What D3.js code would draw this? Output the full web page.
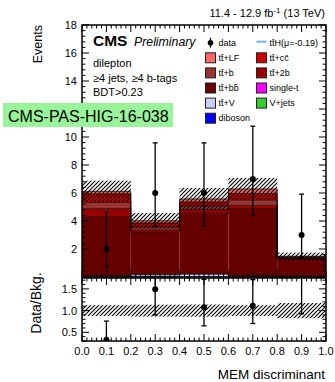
<!DOCTYPE html>
<html><head><meta charset="utf-8">
<script src="https://cdn.jsdelivr.net/npm/d3@7/dist/d3.min.js"></script>
<style>body{margin:0;background:#fff;}svg{display:block;font-family:"Liberation Sans",Arial,sans-serif;}</style>
</head><body><svg id="c" width="335" height="382"></svg>
<script>
// ---- data ----
const binEdges = [0, 0.2, 0.4, 0.6, 0.8, 1.0];
const binCenters = [0.1, 0.3, 0.5, 0.7, 0.9];
const dataCounts = [2, 6, 6, 7, 3];
const dataErrLow = [1.29, 2.38, 2.38, 2.58, 1.63];
const dataErrHigh = [2.64, 3.58, 3.58, 3.77, 2.92];
const processNames = ["diboson", "vjets", "ttV", "singleT", "ttbb", "tt2b", "ttb", "ttcc", "ttLF"];
const diboson = [0.0, 0.05, 0.0, 0.0, 0.0];
const vjets   = [0.0, 0.0, 0.0, 0.0, 0.0];
const ttV     = [0.06, 0.12, 0.2, 0.06, 0.02];
const singleT = [0.0, 0.0, 0.0, 0.0, 0.0];
const ttbb    = [4.22, 3.05, 4.35, 4.79, 1.26];
const tt2b    = [0.61, 0.16, 0.27, 0.26, 0.05];
const ttb     = [0.43, 0.17, 0.24, 0.37, 0.05];
const ttcc    = [0.62, 0.31, 0.31, 0.48, 0.06];
const ttLF    = [0.18, 0.16, 0.21, 0.33, 0.04];
const bkgUnc  = [0.76, 0.55, 0.78, 0.78, 0.26];
// "12" is hidden behind the PAS box in the reference
const mainYTickLabels = [2, 4, 6, 8, 10, 14, 16, 18];
const ratioYTicks = [0.5, 1.0, 1.5];
const xTicks = [0, 0.1, 0.2, 0.3, 0.4, 0.5, 0.6, 0.7, 0.8, 0.9, 1.0];

const colors = {diboson:"#0000ff", vjets:"#33cc33", ttV:"#ccccff", singleT:"#ff00ff",
  ttbb:"#660000", tt2b:"#990000", ttb:"#993333", ttcc:"#cc0000", ttLF:"#ff6666"};
const series = {diboson, vjets, ttV, singleT, ttbb, tt2b, ttb, ttcc, ttLF};

const svg = d3.select("#c");
const x = d3.scaleLinear().domain([0, 1]).range([82, 326]);
const y = d3.scaleLinear().domain([0, 18]).range([277, 25]);
const yr = d3.scaleLinear().domain([0.3, 1.75]).range([341, 278]);

const defs = svg.append("defs");
const pat = defs.append("pattern").attr("id","hatch").attr("patternUnits","userSpaceOnUse")
  .attr("width",4).attr("height",4);
pat.append("path").attr("d","M-1,1 l2,-2 M0,4 l4,-4 M3,5 l2,-2").attr("stroke","#000").attr("stroke-width",1.1);
defs.append("clipPath").attr("id","cm").append("rect").attr("x",82).attr("y",25).attr("width",244).attr("height",252);
defs.append("clipPath").attr("id","cr").append("rect").attr("x",82).attr("y",278).attr("width",244).attr("height",63);

// stack
const rows = binCenters.map((c,i)=>{const o={i}; processNames.forEach(p=>o[p]=series[p][i]); return o;});
const stacked = d3.stack().keys(processNames)(rows);
const total = rows.map(r=>processNames.reduce((s,p)=>s+r[p],0));

const gm = svg.append("g").attr("clip-path","url(#cm)");
stacked.forEach(layer=>{
  gm.selectAll(null).data(layer).enter().append("rect")
    .attr("x",(d,i)=>x(binEdges[i])).attr("width",(d,i)=>x(binEdges[i+1])-x(binEdges[i]))
    .attr("y",d=>y(d[1])).attr("height",d=>Math.max(0,y(d[0])-y(d[1])))
    .attr("fill",colors[layer.key]);
});
function stepPath(vals, sc){
  let d = "M"+x(binEdges[0])+","+sc(vals[0]);
  vals.forEach((v,i)=>{ if(i>0) d+="V"+sc(v); d+="H"+x(binEdges[i+1]); });
  return d;
}
stacked.forEach(layer=>{
  if (layer.every(d=>d[1]-d[0]<=0)) return;
  gm.append("path").attr("d",stepPath(layer.map(d=>d[1]),y)).attr("fill","none")
    .attr("stroke","#000").attr("stroke-opacity",0.75).attr("stroke-width",0.9);
});
// uncertainty band
gm.selectAll(null).data(total).enter().append("rect")
  .attr("x",(d,i)=>x(binEdges[i])).attr("width",(d,i)=>x(binEdges[i+1])-x(binEdges[i]))
  .attr("y",(d,i)=>y(d+bkgUnc[i])).attr("height",(d,i)=>y(d-bkgUnc[i])-y(d+bkgUnc[i]))
  .attr("fill","url(#hatch)");

// ratio band
const gr = svg.append("g").attr("clip-path","url(#cr)");
gr.selectAll(null).data(total).enter().append("rect")
  .attr("x",(d,i)=>x(binEdges[i])).attr("width",(d,i)=>x(binEdges[i+1])-x(binEdges[i]))
  .attr("y",(d,i)=>yr(1+bkgUnc[i]/d)).attr("height",(d,i)=>yr(1-bkgUnc[i]/d)-yr(1+bkgUnc[i]/d))
  .attr("fill","url(#hatch)");

// data points
function drawPoints(g, sc, vals, lo, hi){
  vals.forEach((v,i)=>{
    const cx = x(binCenters[i]);
    g.append("line").attr("x1",cx).attr("x2",cx).attr("y1",sc(v-lo[i])).attr("y2",sc(v+hi[i]))
      .attr("stroke","#000").attr("stroke-width",1.3);
    [v-lo[i], v+hi[i]].forEach(e=>g.append("line").attr("x1",cx-2.5).attr("x2",cx+2.5)
      .attr("y1",sc(e)).attr("y2",sc(e)).attr("stroke","#000").attr("stroke-width",1.3));
    g.append("circle").attr("cx",cx).attr("cy",sc(v)).attr("r",3).attr("fill","#000");
  });
}
drawPoints(gm, y, dataCounts, dataErrLow, dataErrHigh);
drawPoints(gr, yr, dataCounts.map((v,i)=>v/total[i]), dataErrLow.map((v,i)=>v/total[i]), dataErrHigh.map((v,i)=>v/total[i]));

// frames & ticks
function frame(y0, y1){
  svg.append("rect").attr("x",82).attr("y",y0).attr("width",244).attr("height",y1-y0)
    .attr("fill","none").attr("stroke","#000").attr("stroke-width",1.5);
}
frame(25, 277); frame(278, 341);
const tk = svg.append("g").attr("stroke","#000").attr("stroke-width",1);
function xTicksAt(yy, dir){
  d3.range(0, 1.0001, 0.02).forEach(v=>{
    const major = Math.abs(v*10 - Math.round(v*10)) < 1e-6;
    const L = major ? 7 : 3.5;
    tk.append("line").attr("x1",x(v)).attr("x2",x(v)).attr("y1",yy).attr("y2",yy+dir*L);
  });
}
xTicksAt(25, 1); xTicksAt(277, -1); xTicksAt(278, 1); xTicksAt(341, -1);
function yTicks(sc, lo, hi, step, majorStep){
  const n = Math.round((hi-lo)/step);
  for(let k=0;k<=n;k++){
    const v = lo + k*step;
    const major = Math.abs(v/majorStep - Math.round(v/majorStep)) < 1e-6;
    const L = major ? 7 : 3.5;
    tk.append("line").attr("x1",82).attr("x2",82+L).attr("y1",sc(v)).attr("y2",sc(v));
    tk.append("line").attr("x1",326).attr("x2",326-L).attr("y1",sc(v)).attr("y2",sc(v));
  }
}
yTicks(y, 0, 18, 0.4, 2);
yTicks(yr, 0.3, 1.7, 0.1, 0.5);

// tick labels
const lab = svg.append("g").attr("font-size",11).attr("fill","#000");
mainYTickLabels.forEach(v=>lab.append("text").attr("x",77).attr("y",y(v)+4).attr("text-anchor","end").text(v));
ratioYTicks.forEach(v=>lab.append("text").attr("x",77).attr("y",yr(v)+4).attr("text-anchor","end").text(v.toFixed(1)));
xTicks.forEach(v=>lab.append("text").attr("x",x(v)).attr("y",355).attr("text-anchor","middle").text(v.toFixed(1)));

// axis titles
svg.append("text").attr("transform","translate(42,25) rotate(-90)").attr("text-anchor","end")
  .attr("font-size",12.5).text("Events");
svg.append("text").attr("transform","translate(41,303) rotate(-90)").attr("text-anchor","middle")
  .attr("font-size",14).text("Data/Bkg.");
svg.append("text").attr("x",325).attr("y",378.5).attr("text-anchor","end").attr("font-size",13.5).text("MEM discriminant");

// lumi
const lumi = svg.append("text").attr("x",325).attr("y",17).attr("text-anchor","end").attr("font-size",11);
lumi.append("tspan").text("11.4 - 12.9 fb");
lumi.append("tspan").attr("dy",-4).attr("font-size",8).text("-1");
lumi.append("tspan").attr("dy",4).text(" (13 TeV)");

// CMS label
svg.append("text").attr("x",93).attr("y",46).attr("font-size",15.5).attr("font-weight","bold").text("CMS");
svg.append("text").attr("x",134).attr("y",46).attr("font-size",12.3).attr("font-style","italic").text("Preliminary");
["dilepton","\u22654 jets, \u22654 b-tags","BDT>0.23"].forEach((t,i)=>
  svg.append("text").attr("x",93).attr("y",67+i*14.6).attr("font-size",11).text(t));

// legend
const tb = "t\u0074\u0304";
const legendCol1 = [["data","data"],["ttLF",tb+"+LF"],["ttb",tb+"+b"],["ttbb",tb+"+b\u0062\u0304"],["ttV",tb+"+V"],["diboson","diboson"]];
const legendCol2 = [["ttH",tb+"H(\u03bc=-0.19)"],["ttcc",tb+"+c\u0063\u0304"],["tt2b",tb+"+2b"],["singleT","single-t"],["vjets","V+jets"]];
const lg = svg.append("g").attr("font-size",9);
function legendCol(list, x0){
  list.forEach(([k,t],i)=>{
    const cy = 42.7 + i*15.1;
    if(k==="data"){
      lg.append("line").attr("x1",x0+5).attr("x2",x0+5).attr("y1",cy-5).attr("y2",cy+5).attr("stroke","#000").attr("stroke-width",1.2);
      lg.append("circle").attr("cx",x0+5).attr("cy",cy).attr("r",2.8).attr("fill","#000");
    } else if(k==="ttH"){
      lg.append("line").attr("x1",x0).attr("x2",x0+10).attr("y1",cy-1).attr("y2",cy-1).attr("stroke","#66b3ff").attr("stroke-width",2);
    } else {
      lg.append("rect").attr("x",x0).attr("y",cy-5).attr("width",10).attr("height",10)
        .attr("fill",colors[k]).attr("stroke","#222").attr("stroke-width",1);
    }
    lg.append("text").attr("x",x0+13).attr("y",cy+3.2).text(t);
  });
}
legendCol(legendCol1, 205.5);
legendCol(legendCol2, 256.5);

// green PAS box
svg.append("rect").attr("x",3).attr("y",103).attr("width",170).attr("height",24).attr("fill","#99f599");
svg.append("text").attr("x",8).attr("y",121.5).attr("font-size",16).text("CMS-PAS-HIG-16-038");
</script></body></html>
